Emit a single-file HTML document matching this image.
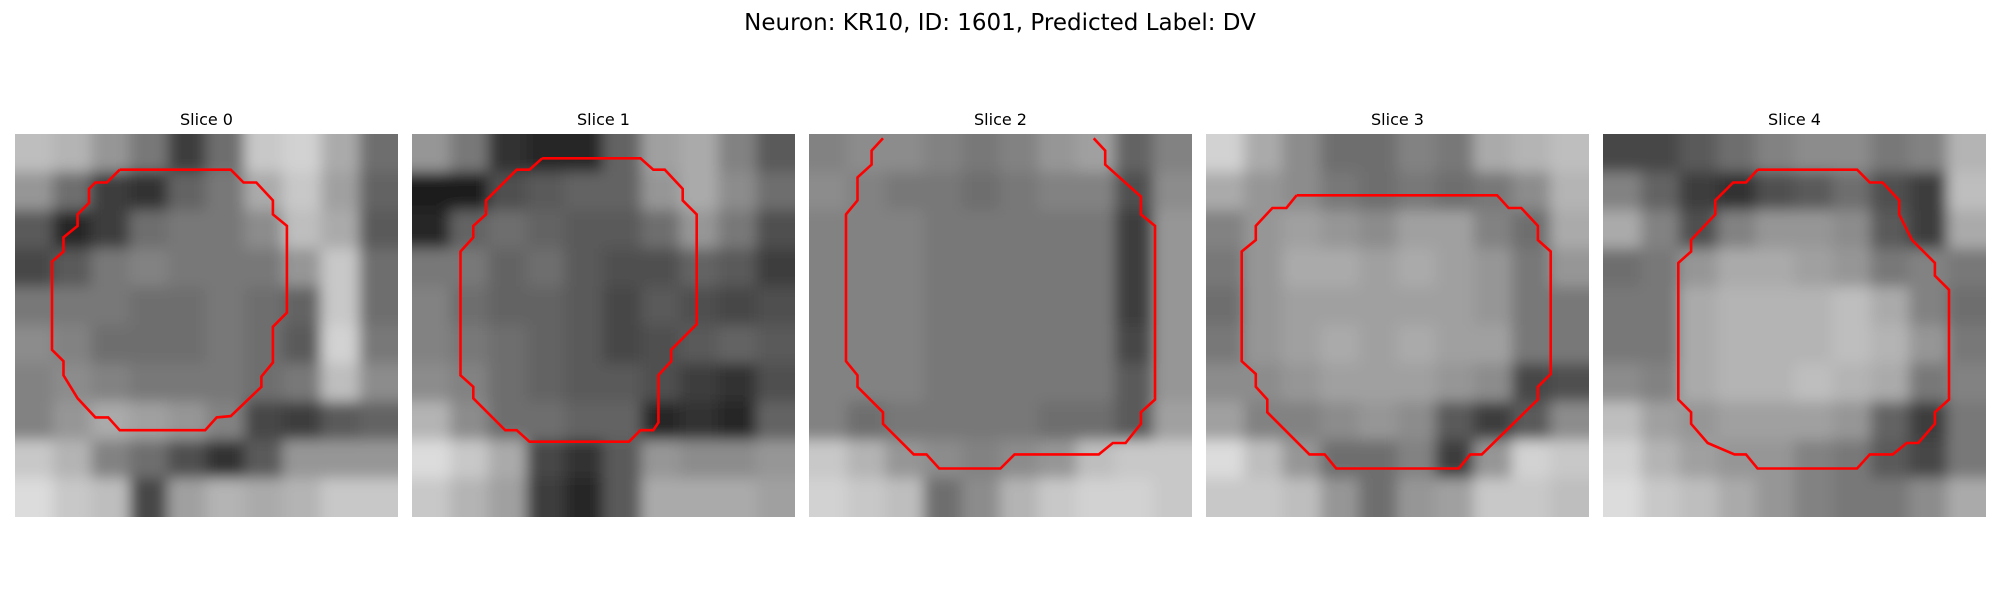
<!DOCTYPE html>
<html><head><meta charset="utf-8"><style>
html,body{margin:0;padding:0;background:#fff;}
svg{display:block;font-family:"DejaVu Sans","Liberation Sans",sans-serif;}
</style></head><body>
<svg id="fig" width="2000" height="600" viewBox="0 0 2000 600" xmlns="http://www.w3.org/2000/svg">
<defs>
<filter id="blur" x="-0.2" y="-0.2" width="1.4" height="1.4"><feGaussianBlur stdDeviation="7" edgeMode="duplicate"/></filter>
</defs>
<text x="1000" y="30" text-anchor="middle" font-size="23" fill="#000">Neuron: KR10, ID: 1601, Predicted Label: DV</text>
<g id="panels"></g>
</svg>
<script>
const panelTitles = ["Slice 0","Slice 1","Slice 2","Slice 3","Slice 4"];
const grid0 = [[190,180,150,120,60,110,200,210,170,110],[150,110,60,50,100,120,170,200,160,100],[90,40,60,110,120,120,140,190,170,90],[70,90,120,130,120,120,120,150,200,110],[120,120,120,110,110,120,110,100,200,110],[140,130,110,110,110,120,110,90,210,120],[130,140,130,120,120,120,110,120,190,140],[130,150,170,160,150,130,70,60,90,100],[200,180,130,110,80,50,90,150,150,150],[220,200,190,70,160,180,170,180,200,200]];
const grid1 = [[150,120,50,40,40,100,160,170,130,90],[30,30,80,90,100,100,150,170,140,110],[40,100,110,100,90,90,110,150,120,80],[120,120,100,110,90,80,80,100,90,60],[130,110,100,100,90,70,90,80,70,80],[130,120,110,100,90,70,80,90,100,90],[140,130,110,100,90,90,80,60,50,80],[180,140,110,110,100,100,40,50,40,100],[220,200,170,70,50,90,150,140,140,150],[200,180,160,60,40,90,170,170,170,160]];
const grid2 = [[130,140,140,130,120,130,150,160,100,130],[140,130,120,120,110,120,130,130,80,140],[130,130,130,120,120,120,120,120,60,150],[130,130,130,120,120,120,120,120,60,150],[130,130,130,120,120,120,120,120,60,150],[130,130,130,120,120,120,120,120,70,150],[130,130,130,120,120,120,120,120,90,150],[130,110,120,120,120,120,110,110,90,160],[200,180,150,140,130,140,150,190,200,200],[210,200,190,110,140,180,200,210,210,200]];
const grid3 = [[210,170,140,110,110,130,120,170,180,190],[170,150,140,120,110,120,110,120,140,180],[130,150,160,150,140,160,160,130,110,170],[120,150,170,170,160,170,160,150,120,150],[110,150,160,160,160,160,160,150,120,120],[120,150,160,170,160,170,160,160,120,120],[140,140,150,160,160,160,150,140,70,80],[160,130,130,140,150,140,90,60,90,140],[220,190,150,110,110,130,60,150,210,200],[200,200,190,150,110,150,160,200,200,190]];
const grid4 = [[70,70,90,110,130,140,140,120,130,180],[130,100,60,50,80,90,110,80,60,190],[170,130,80,130,150,150,140,90,60,170],[110,120,150,170,170,160,150,120,130,120],[120,120,170,180,180,180,190,170,130,110],[120,120,170,180,180,180,190,180,150,120],[140,130,170,180,180,190,180,170,120,130],[190,160,150,160,160,160,150,100,60,120],[210,180,160,150,150,130,120,90,70,120],[220,200,190,170,150,130,120,120,140,170]];
const contour0 = [[8.2,2.8],[16.9,2.8],[17.9,3.8],[18.9,3.8],[20.2,5.2],[20.2,6.3],[21.3,7.2],[21.3,14],[20.2,15.1],[20.2,17.9],[19.3,19],[19.3,19.8],[16.9,22.1],[15.8,22.2],[14.9,23.2],[8.2,23.2],[7.3,22.2],[6.3,22.2],[4.9,20.7],[3.8,18.9],[3.8,17.8],[2.9,16.9],[2.9,10],[3.8,9.2],[3.8,8.1],[4.9,7.2],[4.9,6.3],[5.8,5.4],[5.8,4.3],[6.3,3.8],[7.2,3.8],[8.2,2.8]];
const contour1 = [[10.2,1.9],[17.9,1.9],[18.9,2.8],[19.8,2.8],[21.2,4.3],[21.2,5.2],[22.3,6.3],[22.3,14.9],[20.3,16.9],[20.3,17.8],[19.3,18.9],[19.3,22.6],[18.9,23.2],[17.9,23.2],[17,24.1],[9.2,24.1],[8.2,23.2],[7.3,23.2],[4.8,20.7],[4.8,19.8],[3.8,18.9],[3.8,9.2],[4.8,8.1],[4.8,7.2],[5.8,6.3],[5.8,5.2],[8.2,2.8],[9.2,2.8],[10.2,1.9]];
const contour2 = [[5.8,0.34],[4.9,1.3],[4.9,2.4],[3.8,3.4],[3.8,5.2],[2.9,6.3],[2.9,17.8],[3.8,18.9],[3.8,19.8],[5.8,21.8],[5.8,22.7],[8.2,25.1],[9.2,25.1],[10.2,26.2],[15,26.2],[16.1,25.1],[22.7,25.1],[23.8,24.2],[24.8,24.2],[26,22.7],[26,21.8],[27.1,20.8],[27.1,7.2],[26,6.3],[26,4.9],[23.2,2.4],[23.2,1.3],[22.3,0.34]];
const contour3 = [[7.1,4.8],[22.8,4.8],[23.7,5.8],[24.7,5.8],[26,7.2],[26,8.3],[27,9.2],[27,18.8],[26,19.8],[26,20.8],[21.6,25.1],[20.7,25.1],[19.8,26.2],[10.2,26.2],[9.3,25.1],[8.1,25.1],[4.8,21.8],[4.8,20.8],[3.9,19.8],[3.9,18.8],[2.8,17.8],[2.8,9.2],[3.9,8.3],[3.9,7.2],[5.2,5.8],[6.3,5.8],[7.1,4.8]];
const contour4 = [[12.1,2.8],[19.9,2.8],[20.9,3.8],[21.9,3.8],[23.2,5.2],[23.2,6.3],[24.2,8.3],[26,10.1],[26,11.1],[27.1,12.2],[27.1,20.8],[26,21.8],[26,22.7],[24.7,24.2],[23.8,24.2],[22.7,25.1],[20.9,25.1],[19.9,26.2],[12.1,26.2],[11.2,25.1],[10.3,25.1],[8.2,24.2],[6.9,22.7],[6.9,21.8],[5.9,20.8],[5.9,10.1],[6.9,9.2],[6.9,8.3],[8.8,6.3],[8.8,5.2],[10.2,3.8],[11.2,3.8],[12.1,2.8]];

const grids=[grid0,grid1,grid2,grid3,grid4];
const contours=[contour0,contour1,contour2,contour3,contour4];
const NS="http://www.w3.org/2000/svg";
const PX0=15, PSTEP=397, PY=134, PW=383, CELLS=30, EXT=40;
const root=document.getElementById('panels');
const defs=document.querySelector('defs');
for(let p=0;p<5;p++){
  const ox=PX0+p*PSTEP;
  const cell=PW/CELLS;
  const sx=v=>ox+v*cell, sy=v=>PY+v*cell;
  const cp=document.createElementNS(NS,'clipPath');
  cp.setAttribute('id','clip'+p);
  const cr=document.createElementNS(NS,'rect');
  cr.setAttribute('x',ox);cr.setAttribute('y',PY);cr.setAttribute('width',PW);cr.setAttribute('height',PW);
  cp.appendChild(cr);defs.appendChild(cp);
  const g=document.createElementNS(NS,'g');
  
  
  const t=document.createElementNS(NS,'text');
  
  
  t.setAttribute('x',ox+PW/2);t.setAttribute('y',125);t.setAttribute('text-anchor','middle');t.setAttribute('font-size','16');
  t.textContent=panelTitles[p];
  g.appendChild(t);
  const clipG=document.createElementNS(NS,'g');
  clipG.setAttribute('clip-path','url(#clip'+p+')');
  const img=document.createElementNS(NS,'g');
  
  
  img.setAttribute('filter','url(#blur)');
  const grid=grids[p], n=grid.length, bs=PW/n;
  for(let r=0;r<n;r++)for(let c=0;c<grid[r].length;c++){
    const v=grid[r][c];
    let x0=ox+c*bs-0.5, y0=PY+r*bs-0.5, w=bs+1, h=bs+1;
    if(c===0){x0-=EXT;w+=EXT;}
    if(c===n-1){w+=EXT;}
    if(r===0){y0-=EXT;h+=EXT;}
    if(r===n-1){h+=EXT;}
    const rc=document.createElementNS(NS,'rect');
    rc.setAttribute('x',x0);rc.setAttribute('y',y0);
    rc.setAttribute('width',w);rc.setAttribute('height',h);
    rc.setAttribute('fill','rgb('+v+','+v+','+v+')');
    img.appendChild(rc);
  }
  clipG.appendChild(img);
  const pl=document.createElementNS(NS,'polyline');
  
  
  pl.setAttribute('points',contours[p].map(q=>sx(q[0]).toFixed(1)+','+sy(q[1]).toFixed(1)).join(' '));
  pl.setAttribute('fill','none');pl.setAttribute('stroke','#f00');pl.setAttribute('stroke-width','2.6');
  clipG.appendChild(pl);
  g.appendChild(clipG);
  root.appendChild(g);
}
</script>
</body></html>
